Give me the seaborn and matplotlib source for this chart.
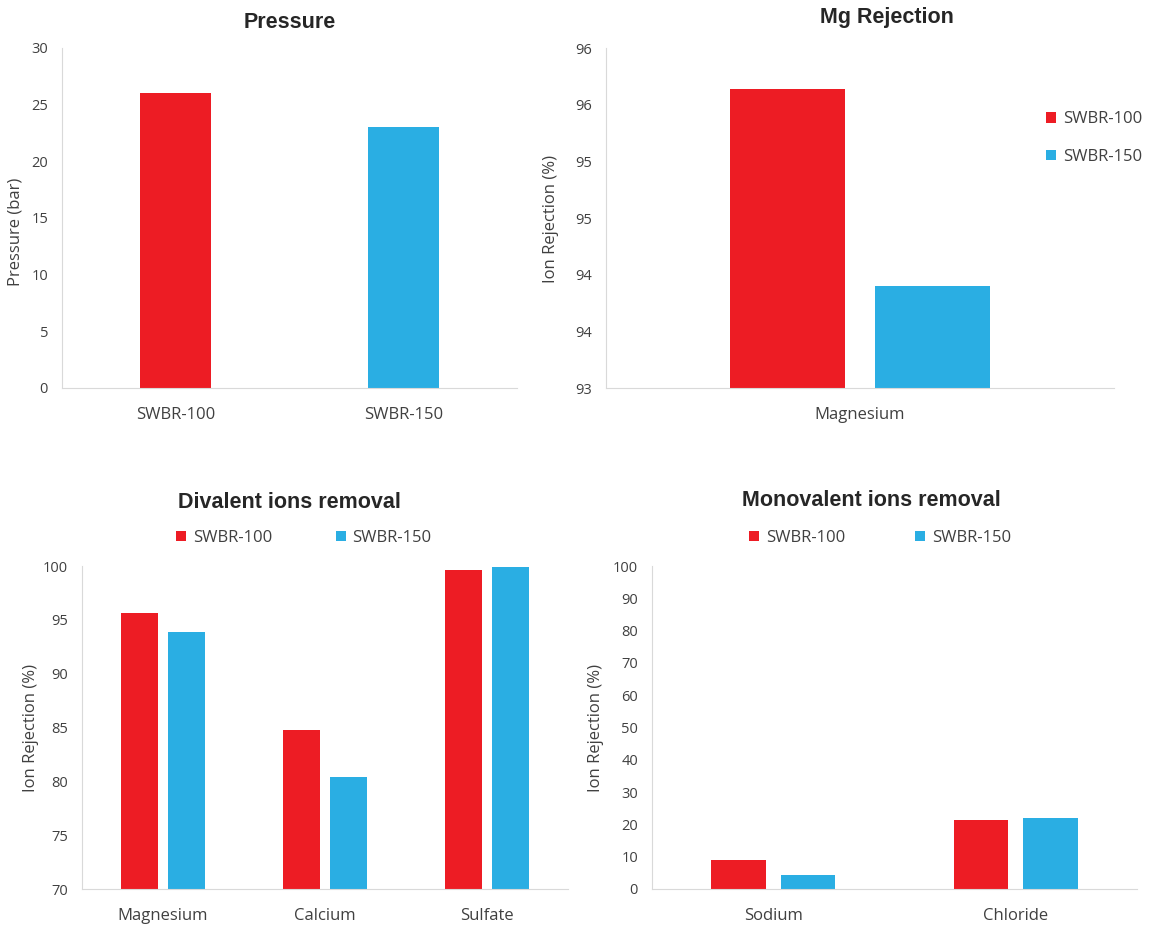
import numpy as np
import pandas as pd
import matplotlib
matplotlib.use('Agg')
import matplotlib.pyplot as plt
import seaborn as sns

# values
samples = ['SWBR-100', 'SWBR-150']
pressure_bar = [26.0, 23.0]

mg_ion = ['Magnesium']
mg_100 = [95.64]
mg_150 = [93.9]
mg_ticks = [93, 93.5, 94, 94.5, 95, 95.5, 96]
mg_tick_labels = ['93', '94', '94', '95', '95', '96', '96']

divalent_ions = ['Magnesium', 'Calcium', 'Sulfate']
div_100 = [95.6, 84.8, 99.6]
div_150 = [93.9, 80.4, 99.9]

mono_ions = ['Sodium', 'Chloride']
mono_100 = [9.1, 21.3]
mono_150 = [4.2, 22.1]

colors = {'SWBR-100': '#ED1C24', 'SWBR-150': '#2AAEE3'}

sns.set_style('white')
plt.rcParams['font.family'] = ['Open Sans', 'DejaVu Sans']
TICK = '#404040'
SPINE = '#d9d9d9'

W, H = 1151, 925
fig = plt.figure(figsize=(W / 100, H / 100), dpi=100)


def add_ax(left, right, top, bottom):
    return fig.add_axes([left / W, 1 - bottom / H, (right - left) / W, (bottom - top) / H])


def long_df(ions, a, b):
    return pd.DataFrame({
        'ion': list(ions) * 2,
        'value': list(a) + list(b),
        'sample': ['SWBR-100'] * len(ions) + ['SWBR-150'] * len(ions),
    })


def style(ax, ylabel, lab_x, lab_y):
    sns.despine(ax=ax)
    ax.spines['left'].set_color(SPINE)
    ax.spines['bottom'].set_color(SPINE)
    ax.tick_params(axis='y', length=4, color=SPINE, labelsize=10.5, labelcolor=TICK, pad=6)
    ax.tick_params(axis='x', length=0, labelsize=12, labelcolor=TICK, pad=14)
    ax.set_xlabel('')
    ax.set_ylabel(ylabel, fontsize=12, color=TICK)
    # place the label by its right edge (pixels) and centre (pixels)
    pos = ax.get_position()
    x0, x1 = pos.x0 * W, pos.x1 * W
    y0, y1 = (1 - pos.y1) * H, (1 - pos.y0) * H
    ax.yaxis.set_label_coords((lab_x - x0) / (x1 - x0), (y1 - lab_y) / (y1 - y0))


def title(x, y, text):
    fig.text(x / W, 1 - y / H, text, ha='center', va='center',
             fontsize=15.5, fontweight='bold', family='Liberation Sans')


def legend(handles, labels, **kw):
    fig.legend(handles, labels, frameon=False, fontsize=12, handlelength=0.6,
               handleheight=0.6, handletextpad=0.4, labelcolor=TICK, **kw)


# Pressure
ax1 = add_ax(62, 517, 48, 388)
sns.barplot(x=samples, y=pressure_bar, hue=samples, palette=colors, width=0.31,
            saturation=1, linewidth=0, legend=False, ax=ax1)
ax1.set_ylim(0, 30)
ax1.set_yticks(range(0, 31, 5))
style(ax1, 'Pressure (bar)', 24, 232)
title(290, 22, 'Pressure')

# Mg rejection
ax2 = add_ax(606, 1114, 48, 388)
sns.barplot(data=long_df(mg_ion, mg_100, mg_150), x='ion', y='value', hue='sample',
            palette=colors, width=0.57, gap=0.21, saturation=1, linewidth=0, ax=ax2)
ax2.set_ylim(93, 96)
ax2.set_yticks(mg_ticks)
ax2.set_yticklabels(mg_tick_labels)
style(ax2, 'Ion Rejection (%)', 559, 219)
h, l = ax2.get_legend_handles_labels()
ax2.get_legend().remove()
legend(h, l, loc='center left', bbox_to_anchor=(1046 / W, 1 - 138 / H), labelspacing=1.3,
       borderpad=0, borderaxespad=0)
title(887, 18, 'Mg Rejection')

# Divalent ions
ax3 = add_ax(82, 568, 566, 889)
sns.barplot(data=long_df(divalent_ions, div_100, div_150), x='ion', y='value', hue='sample',
            palette=colors, width=0.57, gap=0.2, saturation=1, linewidth=0, ax=ax3)
ax3.set_ylim(70, 100)
ax3.set_yticks(range(70, 101, 5))
style(ax3, 'Ion Rejection (%)', 39, 728)
h, l = ax3.get_legend_handles_labels()
ax3.get_legend().remove()
legend(h, l, loc='center', bbox_to_anchor=(304 / W, 1 - 538 / H), ncol=2, columnspacing=3.8)
title(289, 502, 'Divalent ions removal')

# Monovalent ions
ax4 = add_ax(652, 1137, 566, 889)
sns.barplot(data=long_df(mono_ions, mono_100, mono_150), x='ion', y='value', hue='sample',
            palette=colors, width=0.57, gap=0.21, saturation=1, linewidth=0, ax=ax4)
ax4.set_ylim(0, 100)
ax4.set_yticks(range(0, 101, 10))
style(ax4, 'Ion Rejection (%)', 604, 728)
h, l = ax4.get_legend_handles_labels()
ax4.get_legend().remove()
legend(h, l, loc='center', bbox_to_anchor=(880 / W, 1 - 538 / H), ncol=2, columnspacing=4.2)
title(871, 500, 'Monovalent ions removal')

fig.savefig('out.png', dpi=100)
